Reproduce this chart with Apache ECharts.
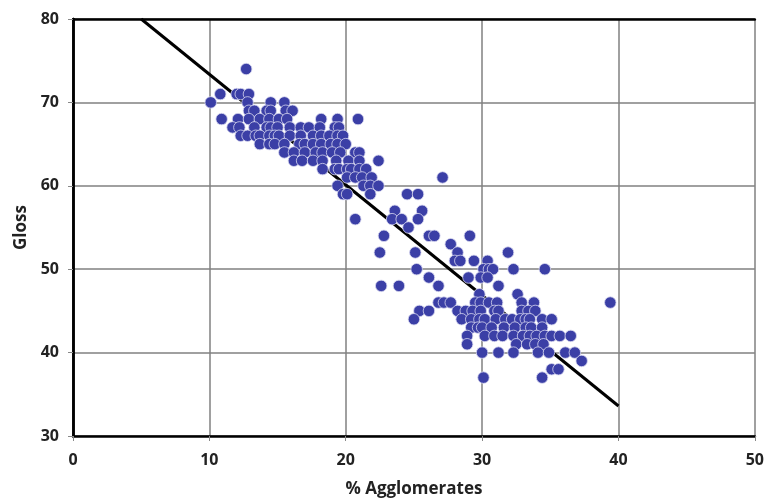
<!DOCTYPE html>
<html>
<head>
<meta charset="utf-8">
<script src="https://cdn.jsdelivr.net/npm/echarts@6/dist/echarts.min.js"></script>
<style>
  html, body { margin: 0; padding: 0; background: #fff; }
  #chart { width: 767px; height: 503px; }
</style>
</head>
<body>
<div id="chart"></div>
<script>
// gloss levels and the % agglomerates read at each level
const glossLevels = [74, 71, 70, 69, 68, 67, 66, 65, 64, 63, 62, 61, 60, 59, 57, 56, 55, 54, 53, 52, 51, 50, 49, 48, 47, 46, 45, 44, 43, 42, 41, 40, 39, 38, 37];
const agglomerates = [
  [12.7],
  [10.8, 12.0, 12.3, 12.9],
  [10.1, 12.8, 14.5, 15.5],
  [12.9, 13.3, 14.2, 14.5, 15.6, 16.1],
  [10.9, 12.1, 12.9, 13.7, 14.4, 15.1, 15.7, 18.2, 19.4, 20.9],
  [11.7, 12.2, 13.3, 14.2, 14.5, 15.0, 15.9, 16.7, 17.3, 18.1, 19.2, 19.5],
  [12.3, 12.8, 13.4, 13.7, 14.4, 14.8, 15.1, 15.9, 16.7, 17.6, 18.2, 18.8, 19.4, 19.8],
  [13.7, 14.4, 14.8, 15.5, 16.6, 17.0, 17.6, 18.2, 18.9, 19.4, 20.0],
  [15.5, 16.2, 17.0, 17.8, 18.3, 19.0, 19.6, 20.7, 21.0],
  [16.2, 16.8, 17.6, 18.3, 19.3, 20.2, 21.0, 22.4],
  [18.3, 19.2, 19.5, 20.1, 20.4, 21.0, 21.5],
  [20.1, 20.7, 21.2, 21.9, 27.1],
  [19.4, 21.3, 21.8, 22.4],
  [19.8, 20.1, 21.8, 24.5, 25.3],
  [23.6, 25.6],
  [20.7, 23.4, 24.1, 25.3],
  [24.6],
  [22.8, 26.1, 26.5, 29.1],
  [27.7],
  [22.5, 25.1, 28.2, 31.9],
  [28.0, 28.4, 29.4, 30.4],
  [25.2, 30.1, 30.5, 30.8, 32.3, 34.6],
  [26.1, 29.0, 29.9, 30.4],
  [22.6, 23.9, 26.8, 31.2],
  [29.8, 32.6],
  [26.8, 27.2, 27.7, 29.5, 29.9, 30.5, 31.1, 32.9, 33.8, 39.4],
  [25.4, 26.1, 28.2, 28.8, 29.3, 29.9, 30.9, 31.2, 32.9, 33.4, 33.9],
  [25.0, 28.5, 29.2, 29.8, 30.2, 31.0, 31.7, 32.2, 32.8, 33.2, 33.5, 34.4, 35.1],
  [29.2, 29.7, 30.0, 30.7, 31.6, 32.4, 33.2, 33.6, 34.4],
  [28.9, 30.2, 30.9, 31.5, 32.3, 33.0, 33.5, 34.0, 34.6, 35.1, 35.7, 36.5],
  [28.9, 32.5, 33.3, 33.9, 34.5],
  [30.0, 31.2, 32.3, 34.1, 34.9, 36.1, 36.8],
  [37.3],
  [35.1, 35.6],
  [30.1, 34.4]
];
// trend line end points
const fitX = [5, 40];
const fitY = [80, 33.6];

const points = [];
glossLevels.forEach(function (g, i) {
  agglomerates[i].forEach(function (a) { points.push([a, g]); });
});

const labelFont = { color: '#222', fontSize: 16, fontWeight: 'bold', fontFamily: 'Open Sans' };

const myChart = echarts.init(document.getElementById('chart'));
myChart.setOption({
  animation: false,
  grid: { left: 73, right: 10, top: 19, bottom: 63 },
  xAxis: [{
    type: 'value', min: 0, max: 50, interval: 10,
    name: '% Agglomerates', nameLocation: 'middle', nameGap: 45,
    nameTextStyle: { color: '#222', fontSize: 17, fontWeight: 'bold', fontFamily: 'Open Sans' },
    axisLine: { lineStyle: { color: '#000', width: 2.5 } },
    axisTick: { show: true, length: 5, lineStyle: { color: '#888' } },
    axisLabel: Object.assign({ margin: 16 }, labelFont),
    splitLine: { lineStyle: { color: '#808080', width: 1.5 } }
  }, {
    type: 'value', min: 0, max: 50, position: 'top',
    axisLine: { show: true, lineStyle: { color: '#000', width: 2.5 } },
    axisTick: { show: false }, axisLabel: { show: false }, splitLine: { show: false }
  }],
  yAxis: [{
    type: 'value', min: 30, max: 80, interval: 10,
    name: 'Gloss', nameLocation: 'middle', nameGap: 43, nameRotate: 90,
    nameTextStyle: { color: '#222', fontSize: 17, fontWeight: 'bold', fontFamily: 'Open Sans' },
    axisLine: { show: true, lineStyle: { color: '#000', width: 2.5 } },
    axisTick: { show: true, length: 5, lineStyle: { color: '#888' } },
    axisLabel: Object.assign({ margin: 14 }, labelFont),
    splitLine: { lineStyle: { color: '#808080', width: 1.5 } }
  }, {
    type: 'value', min: 30, max: 80, position: 'right',
    axisLine: { show: true, lineStyle: { color: '#000', width: 2.5 } },
    axisTick: { show: false }, axisLabel: { show: false }, splitLine: { show: false }
  }],
  series: [{
    type: 'line',
    data: fitX.map(function (x, i) { return [x, fitY[i]]; }),
    symbol: 'none',
    lineStyle: { color: '#000', width: 3 },
    z: 2
  }, {
    type: 'scatter',
    data: points,
    symbolSize: 11.5,
    itemStyle: { color: '#3b3fa6', borderColor: '#d8d8f0', borderWidth: 0.8, opacity: 1 },
    z: 3
  }]
});
</script>
</body>
</html>
